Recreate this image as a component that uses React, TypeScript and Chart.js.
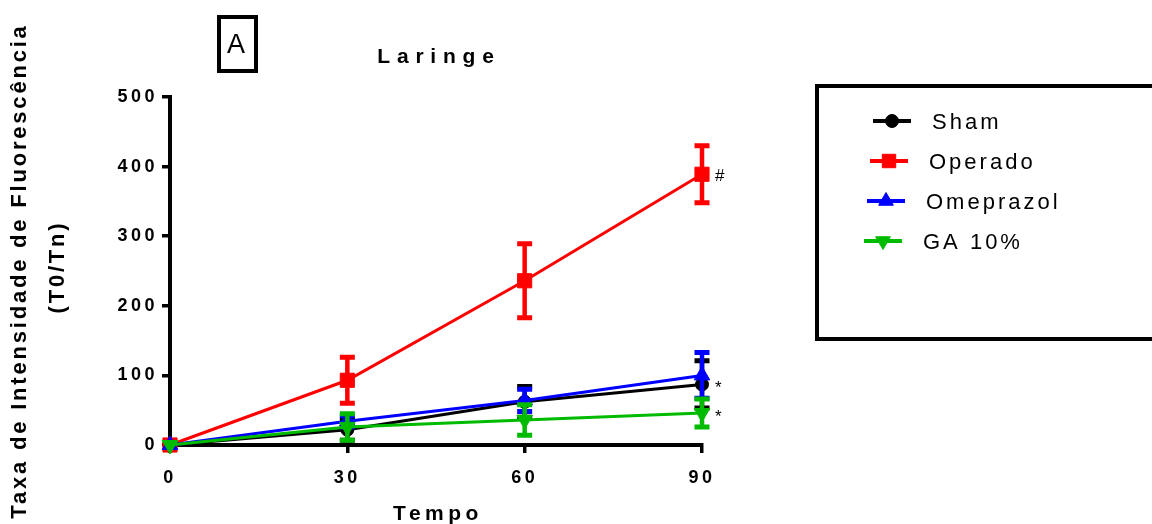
import React, { useEffect, useRef } from 'react';
import { Chart, registerables } from 'chart.js';
import { drawPoint } from 'chart.js/helpers';

Chart.register(...registerables);

// ---- data ----
const timePoints = [0, 30, 60, 90];
const xTickValues = [0, 30, 60, 90];
const yTickValues = [0, 100, 200, 300, 400, 500];
const seriesLabels = ['Sham', 'Operado', 'Omeprazol', 'GA 10%'];
const seriesColors = ['#000000', '#ff0000', '#0000ff', '#00bb00'];
const shamMean = [0, 22, 62, 87];
const shamErr = [0, 15, 22, 34];
const operadoMean = [0, 93, 236, 389];
const operadoErr = [0, 33, 53, 41];
const omeprazolMean = [0, 34, 64, 100];
const omeprazolErr = [0, 8, 16, 33];
const gaMean = [0, 26, 36, 46];
const gaErr = [0, 19, 22, 20];
const significanceMarks = ['*', '#', '', '*'];
const chartTitle = 'Laringe';
const panelLetter = 'A';
const xAxisTitle = 'Tempo';
const yAxisTitleLines = ['Taxa de Intensidade de Fluorescência', '(T0/Tn)'];

const means = [shamMean, operadoMean, omeprazolMean, gaMean];
const errs = [shamErr, operadoErr, omeprazolErr, gaErr];
const pointStyles = ['circle', 'rect', 'triangle', 'triangle'];
const pointRotations = [0, 0, 0, 180];
const pointRadii = [6.5, 10, 9, 9];
const drawOrders = [3, 2, 1, 0];

const FONT = 'Liberation Sans, Arial, sans-serif';

const errorBarPlugin = {
  id: 'errorBars',
  afterDatasetDraw(chart: any, args: any) {
    const ds: any = chart.data.datasets[args.index];
    const meta = args.meta;
    const ctx = chart.ctx;
    const yScale = chart.scales.y;
    ctx.save();
    ctx.strokeStyle = ds.borderColor;
    meta.data.forEach((pt: any, i: number) => {
      const e = ds.errors[i];
      if (!e) return;
      const v = ds.data[i].y;
      const top = yScale.getPixelForValue(v + e);
      const bot = yScale.getPixelForValue(v - e);
      ctx.lineWidth = 4.5;
      ctx.beginPath();
      ctx.moveTo(pt.x, top);
      ctx.lineTo(pt.x, bot);
      ctx.stroke();
      ctx.lineWidth = 5;
      ctx.beginPath();
      ctx.moveTo(pt.x - 7.5, top);
      ctx.lineTo(pt.x + 7.5, top);
      ctx.moveTo(pt.x - 7.5, bot);
      ctx.lineTo(pt.x + 7.5, bot);
      ctx.stroke();
    });
    // significance mark next to last point
    const mark = ds.mark;
    if (mark) {
      const last = meta.data[meta.data.length - 1];
      ctx.fillStyle = '#000';
      ctx.font = `17px ${FONT}`;
      ctx.letterSpacing = '0px';
      ctx.textAlign = 'left';
      ctx.textBaseline = 'middle';
      ctx.fillText(mark, last.x + 13, last.y + (mark === '*' ? 4 : 2));
    }
    ctx.restore();
  },
};

const spacingPlugin = {
  id: 'spacing',
  beforeDraw(chart: any) {
    chart.ctx.letterSpacing = '3.5px';
  },
};

const decorPlugin = {
  id: 'decor',
  afterDraw(chart: any) {
    const ctx = chart.ctx;
    const area = chart.chartArea;
    const cx = (area.left + area.right) / 2;
    ctx.save();
    ctx.fillStyle = '#000';
    ctx.strokeStyle = '#000';

    // Title
    ctx.font = `bold 21px ${FONT}`;
    ctx.letterSpacing = '6.8px';
    ctx.textAlign = 'center';
    ctx.textBaseline = 'middle';
    ctx.fillText(chartTitle, cx + 3, 57);

    // Panel letter box
    ctx.lineWidth = 4;
    ctx.strokeRect(219, 17, 37, 54);
    ctx.font = `27px ${FONT}`;
    ctx.letterSpacing = '0px';
    ctx.fillText(panelLetter, 236, 46);

    // X axis title
    ctx.font = `bold 21px ${FONT}`;
    ctx.letterSpacing = '4.5px';
    ctx.fillText(xAxisTitle, cx + 2, 514);

    // Y axis title (rotated)
    const cy = (area.top + area.bottom) / 2;
    ctx.font = `bold 22px ${FONT}`;
    ctx.letterSpacing = '2.8px';
    ctx.save();
    ctx.translate(20, cy);
    ctx.rotate(-Math.PI / 2);
    ctx.fillText(yAxisTitleLines[0], 0, 0);
    ctx.restore();
    ctx.save();
    ctx.translate(58, cy - 4);
    ctx.rotate(-Math.PI / 2);
    ctx.fillText(yAxisTitleLines[1], 0, 0);
    ctx.restore();

    // Legend box
    ctx.lineWidth = 4;
    ctx.strokeRect(817, 86, 420, 253);

    // Legend rows
    chart.data.datasets.forEach((ds: any, i: number) => {
      const y = 121 + i * 40;
      const x0 = 873 - i * 3;
      ctx.strokeStyle = ds.borderColor;
      ctx.fillStyle = ds.borderColor;
      ctx.lineWidth = 4;
      ctx.beginPath();
      ctx.moveTo(x0, y);
      ctx.lineTo(x0 + 38, y);
      ctx.stroke();
      ctx.lineWidth = 1;
      drawPoint(ctx, {
        pointStyle: ds.pointStyle,
        rotation: ds.pointRotation,
        radius: ds.pointStyle === 'rect' ? 9.5 : ds.pointStyle === 'circle' ? 6.5 : 8.5,
        borderWidth: 1,
      }, x0 + 19, y);
      ctx.fillStyle = '#000';
      ctx.font = `22px ${FONT}`;
      ctx.letterSpacing = '3px';
      ctx.textAlign = 'left';
      ctx.textBaseline = 'middle';
      ctx.fillText(ds.label, x0 + 59, y + 2);
    });
    ctx.restore();
  },
};

export default function App() {
  const canvasRef = useRef<HTMLCanvasElement | null>(null);

  useEffect(() => {
    if (!canvasRef.current) return;
    const datasets = seriesLabels.map((label, i) => ({
      label,
      data: timePoints.map((t, j) => ({ x: t, y: means[i][j] })),
      errors: errs[i],
      mark: significanceMarks[i],
      borderColor: seriesColors[i],
      backgroundColor: seriesColors[i],
      pointBackgroundColor: seriesColors[i],
      pointBorderColor: seriesColors[i],
      pointStyle: pointStyles[i],
      pointRotation: pointRotations[i],
      pointRadius: pointRadii[i],
      pointBorderWidth: 1,
      borderWidth: 3,
      tension: 0,
      clip: false,
      order: drawOrders[i],
    }));

    const tickFont = { family: FONT, size: 18, weight: 'bold' as const };

    const chart = new Chart(canvasRef.current, {
      type: 'line',
      data: { datasets: datasets as any },
      options: {
        animation: false,
        responsive: false,
        devicePixelRatio: 1,
        layout: { padding: { top: 97, left: 0, right: 450, bottom: 0 } },
        plugins: {
          legend: { display: false },
          title: { display: false },
          tooltip: { enabled: false },
        },
        scales: {
          x: {
            type: 'linear',
            min: 0,
            max: 90,
            afterBuildTicks: (scale: any) => {
              scale.ticks = xTickValues.map((v) => ({ value: v }));
            },
            afterFit: (scale: any) => {
              scale.height = 79;
            },
            ticks: { font: tickFont, color: '#000', padding: 14, maxRotation: 0 },
            grid: { drawOnChartArea: false, drawTicks: true, tickLength: 8, color: '#000', lineWidth: 3.5 },
            border: { display: true, color: '#000', width: 4 },
          },
          y: {
            type: 'linear',
            min: 0,
            max: 500,
            afterBuildTicks: (scale: any) => {
              scale.ticks = yTickValues.map((v) => ({ value: v }));
            },
            afterFit: (scale: any) => {
              scale.width = 170;
            },
            ticks: { font: tickFont, color: '#000', padding: 4 },
            grid: { drawOnChartArea: false, drawTicks: true, tickLength: 8, color: '#000', lineWidth: 3.5 },
            border: { display: true, color: '#000', width: 4 },
          },
        },
      },
      plugins: [spacingPlugin, errorBarPlugin, decorPlugin],
    });
    return () => chart.destroy();
  }, []);

  return (
    <div style={{ position: 'fixed', left: 0, top: 0, width: 1152, height: 524, background: '#fff' }}>
      <canvas ref={canvasRef} width={1152} height={524} />
    </div>
  );
}
